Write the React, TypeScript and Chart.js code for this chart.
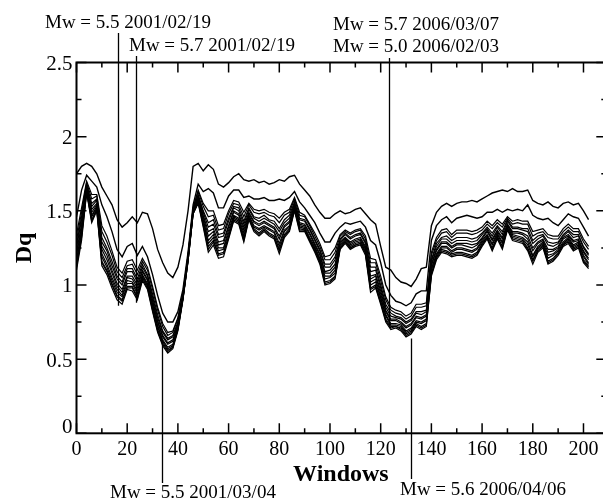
import React, { useEffect, useRef } from "react";
import { Chart, registerables } from "chart.js";

Chart.register(...registerables);

// ---------- data ----------
const windows = [
  0, 2, 4, 6, 8, 10, 12, 14, 16, 18,
  20, 22, 24, 26, 28, 30, 32, 34, 36, 38,
  40, 42, 44, 46, 48, 50, 52, 54, 56, 58,
  60, 62, 64, 66, 68, 70, 72, 74, 76, 78,
  80, 82, 84, 86, 88, 90, 92, 94, 96, 98,
  100, 102, 104, 106, 108, 110, 112, 114, 116, 118,
  120, 122, 124, 126, 128, 130, 132, 134, 136, 138,
  140, 142, 144, 146, 148, 150, 152, 154, 156, 158,
  160, 162, 164, 166, 168, 170, 172, 174, 176, 178,
  180, 182, 184, 186, 188, 190, 192, 194, 196, 198,
  200, 202,
];

const dqQ01 = [
  1.75, 1.8, 1.82, 1.8, 1.75, 1.66, 1.6, 1.54, 1.44, 1.39,
  1.42, 1.46, 1.42, 1.49, 1.48, 1.38, 1.24, 1.15, 1.08, 1.05,
  1.12, 1.27, 1.5, 1.8, 1.82, 1.77, 1.81, 1.78, 1.68, 1.66,
  1.69, 1.73, 1.75, 1.71, 1.7, 1.71, 1.69, 1.7, 1.68, 1.69,
  1.71, 1.7, 1.73, 1.74, 1.68, 1.64, 1.6, 1.54, 1.49, 1.45,
  1.45, 1.48, 1.5, 1.48, 1.49, 1.51, 1.52, 1.48, 1.44, 1.41,
  1.26, 1.12, 1.1, 1.05, 1.02, 1.01, 0.99, 1.04, 1.11, 1.12,
  1.4, 1.49, 1.53, 1.55, 1.53, 1.55, 1.56, 1.56, 1.57, 1.56,
  1.58, 1.6, 1.62, 1.63, 1.64, 1.63, 1.65, 1.63, 1.63, 1.64,
  1.57, 1.55, 1.54, 1.56, 1.53, 1.52, 1.55, 1.56, 1.54, 1.55,
  1.5, 1.44,
];

const dqQ02 = [
  1.46, 1.64, 1.74, 1.7, 1.66, 1.54, 1.46, 1.36, 1.24, 1.19,
  1.26, 1.28, 1.2, 1.26, 1.19, 1.07, 0.93, 0.81, 0.75, 0.75,
  0.82, 0.97, 1.22, 1.54, 1.68, 1.63, 1.65, 1.62, 1.52, 1.52,
  1.6, 1.64, 1.64, 1.59, 1.6, 1.58, 1.58, 1.59, 1.57, 1.57,
  1.58, 1.57, 1.59, 1.63, 1.56, 1.52, 1.47, 1.42, 1.35, 1.29,
  1.29, 1.35, 1.39, 1.42, 1.41, 1.42, 1.43, 1.39, 1.3, 1.27,
  1.15, 1.0, 0.93, 0.89, 0.88, 0.86, 0.88, 0.94, 0.96, 0.96,
  1.3, 1.4, 1.44, 1.46, 1.42, 1.45, 1.46, 1.47, 1.46, 1.45,
  1.46, 1.49, 1.49, 1.51, 1.49, 1.51, 1.5, 1.51, 1.5, 1.54,
  1.47, 1.45, 1.44, 1.45, 1.42, 1.4, 1.44, 1.48, 1.46, 1.45,
  1.39, 1.33,
];

const dqQ03 = [
  1.34, 1.52, 1.7, 1.61, 1.61, 1.4, 1.33, 1.23, 1.12, 1.08,
  1.16, 1.17, 1.1, 1.18, 1.12, 0.99, 0.85, 0.74, 0.68, 0.69,
  0.78, 0.95, 1.2, 1.52, 1.64, 1.55, 1.5, 1.5, 1.4, 1.41,
  1.5, 1.57, 1.56, 1.49, 1.55, 1.51, 1.5, 1.51, 1.49, 1.48,
  1.45, 1.49, 1.51, 1.59, 1.49, 1.47, 1.41, 1.35, 1.28, 1.19,
  1.2, 1.25, 1.34, 1.37, 1.35, 1.37, 1.38, 1.33, 1.18, 1.17,
  1.06, 0.92, 0.85, 0.83, 0.82, 0.79, 0.81, 0.87, 0.87, 0.88,
  1.22, 1.32, 1.37, 1.38, 1.34, 1.37, 1.37, 1.37, 1.36, 1.37,
  1.39, 1.43, 1.4, 1.44, 1.41, 1.46, 1.43, 1.44, 1.43, 1.43,
  1.36, 1.37, 1.38, 1.34, 1.33, 1.33, 1.38, 1.41, 1.38, 1.38,
  1.31, 1.26,
];

const dqQ04 = [
  1.3, 1.49, 1.69, 1.58, 1.6, 1.36, 1.29, 1.2, 1.09, 1.05,
  1.13, 1.14, 1.07, 1.16, 1.1, 0.97, 0.83, 0.72, 0.66, 0.68,
  0.77, 0.94, 1.2, 1.52, 1.63, 1.53, 1.46, 1.47, 1.37, 1.38,
  1.48, 1.55, 1.54, 1.46, 1.54, 1.49, 1.48, 1.49, 1.47, 1.46,
  1.42, 1.47, 1.49, 1.58, 1.47, 1.46, 1.4, 1.33, 1.26, 1.17,
  1.17, 1.22, 1.33, 1.36, 1.34, 1.36, 1.37, 1.31, 1.15, 1.15,
  1.03, 0.9, 0.83, 0.81, 0.8, 0.77, 0.79, 0.85, 0.85, 0.86,
  1.2, 1.3, 1.35, 1.36, 1.32, 1.35, 1.35, 1.35, 1.34, 1.35,
  1.37, 1.41, 1.38, 1.42, 1.39, 1.45, 1.41, 1.42, 1.41, 1.41,
  1.33, 1.35, 1.36, 1.32, 1.31, 1.31, 1.36, 1.39, 1.36, 1.36,
  1.29, 1.24,
];

const dqQ05 = [
  1.27, 1.46, 1.68, 1.55, 1.58, 1.32, 1.25, 1.16, 1.06, 1.02,
  1.11, 1.11, 1.04, 1.14, 1.07, 0.94, 0.8, 0.69, 0.64, 0.66,
  0.75, 0.93, 1.19, 1.51, 1.61, 1.5, 1.42, 1.44, 1.34, 1.35,
  1.45, 1.53, 1.52, 1.43, 1.52, 1.46, 1.45, 1.47, 1.44, 1.43,
  1.38, 1.44, 1.47, 1.56, 1.45, 1.44, 1.38, 1.31, 1.24, 1.14,
  1.14, 1.19, 1.31, 1.35, 1.32, 1.34, 1.35, 1.29, 1.12, 1.12,
  1.0, 0.87, 0.81, 0.79, 0.78, 0.75, 0.77, 0.82, 0.82, 0.83,
  1.17, 1.28, 1.32, 1.33, 1.3, 1.32, 1.32, 1.32, 1.31, 1.32,
  1.35, 1.39, 1.35, 1.4, 1.36, 1.44, 1.39, 1.39, 1.38, 1.38,
  1.3, 1.33, 1.34, 1.29, 1.28, 1.29, 1.34, 1.37, 1.34, 1.34,
  1.26, 1.21,
];

const dqQ06 = [
  1.25, 1.44, 1.67, 1.53, 1.57, 1.29, 1.23, 1.13, 1.04, 1.0,
  1.09, 1.09, 1.02, 1.12, 1.06, 0.92, 0.78, 0.68, 0.63, 0.65,
  0.74, 0.93, 1.19, 1.51, 1.6, 1.49, 1.39, 1.41, 1.32, 1.33,
  1.43, 1.52, 1.5, 1.41, 1.51, 1.45, 1.43, 1.45, 1.43, 1.41,
  1.36, 1.42, 1.45, 1.55, 1.44, 1.43, 1.37, 1.3, 1.23, 1.12,
  1.12, 1.17, 1.3, 1.34, 1.31, 1.33, 1.34, 1.28, 1.09, 1.1,
  0.98, 0.85, 0.79, 0.78, 0.77, 0.74, 0.76, 0.81, 0.8, 0.82,
  1.16, 1.26, 1.31, 1.31, 1.28, 1.3, 1.3, 1.3, 1.29, 1.3,
  1.34, 1.38, 1.33, 1.39, 1.34, 1.43, 1.38, 1.38, 1.37, 1.36,
  1.28, 1.31, 1.33, 1.27, 1.26, 1.28, 1.33, 1.36, 1.32, 1.33,
  1.25, 1.2,
];

const dqQ07 = [
  1.22, 1.41, 1.66, 1.51, 1.55, 1.26, 1.2, 1.1, 1.01, 0.97,
  1.06, 1.06, 1.0, 1.1, 1.04, 0.9, 0.76, 0.66, 0.61, 0.63,
  0.73, 0.92, 1.18, 1.5, 1.59, 1.47, 1.36, 1.38, 1.29, 1.3,
  1.4, 1.5, 1.48, 1.39, 1.49, 1.43, 1.41, 1.43, 1.41, 1.39,
  1.33, 1.4, 1.43, 1.54, 1.42, 1.41, 1.35, 1.28, 1.21, 1.09,
  1.1, 1.14, 1.29, 1.32, 1.29, 1.31, 1.32, 1.26, 1.06, 1.07,
  0.96, 0.83, 0.77, 0.77, 0.75, 0.72, 0.74, 0.79, 0.78, 0.8,
  1.14, 1.24, 1.29, 1.29, 1.26, 1.28, 1.28, 1.28, 1.27, 1.28,
  1.32, 1.37, 1.31, 1.37, 1.32, 1.41, 1.36, 1.36, 1.35, 1.33,
  1.25, 1.29, 1.31, 1.24, 1.24, 1.26, 1.32, 1.34, 1.3, 1.31,
  1.23, 1.18,
];

const dqQ08 = [
  1.2, 1.39, 1.65, 1.49, 1.54, 1.24, 1.17, 1.08, 0.99, 0.95,
  1.05, 1.04, 0.98, 1.09, 1.03, 0.89, 0.75, 0.65, 0.6, 0.62,
  0.73, 0.92, 1.18, 1.5, 1.58, 1.46, 1.33, 1.36, 1.27, 1.28,
  1.39, 1.49, 1.47, 1.37, 1.48, 1.42, 1.4, 1.42, 1.4, 1.38,
  1.31, 1.39, 1.42, 1.53, 1.41, 1.4, 1.34, 1.27, 1.2, 1.08,
  1.08, 1.12, 1.28, 1.32, 1.28, 1.3, 1.31, 1.25, 1.04, 1.06,
  0.94, 0.82, 0.76, 0.76, 0.74, 0.71, 0.73, 0.78, 0.77, 0.79,
  1.13, 1.23, 1.28, 1.28, 1.25, 1.27, 1.27, 1.26, 1.25, 1.27,
  1.31, 1.36, 1.3, 1.36, 1.31, 1.41, 1.35, 1.35, 1.34, 1.31,
  1.23, 1.28, 1.3, 1.22, 1.23, 1.25, 1.31, 1.33, 1.29, 1.3,
  1.22, 1.17,
];

const dqQ09 = [
  1.17, 1.37, 1.64, 1.47, 1.53, 1.21, 1.14, 1.05, 0.97, 0.93,
  1.03, 1.02, 0.96, 1.07, 1.01, 0.87, 0.73, 0.63, 0.58, 0.6,
  0.72, 0.91, 1.17, 1.49, 1.57, 1.44, 1.3, 1.34, 1.25, 1.25,
  1.37, 1.47, 1.45, 1.35, 1.47, 1.4, 1.38, 1.4, 1.38, 1.36,
  1.28, 1.37, 1.4, 1.52, 1.4, 1.39, 1.32, 1.26, 1.18, 1.06,
  1.06, 1.1, 1.27, 1.31, 1.27, 1.29, 1.3, 1.24, 1.02, 1.04,
  0.92, 0.8, 0.74, 0.74, 0.73, 0.69, 0.71, 0.76, 0.75, 0.77,
  1.11, 1.21, 1.26, 1.26, 1.23, 1.25, 1.25, 1.24, 1.23, 1.25,
  1.3, 1.34, 1.28, 1.35, 1.29, 1.4, 1.34, 1.33, 1.32, 1.29,
  1.2, 1.26, 1.29, 1.2, 1.21, 1.24, 1.29, 1.32, 1.27, 1.29,
  1.2, 1.15,
];

const dqQ10 = [
  1.15, 1.35, 1.64, 1.46, 1.52, 1.19, 1.12, 1.03, 0.95, 0.92,
  1.01, 1.01, 0.94, 1.06, 1.0, 0.86, 0.72, 0.62, 0.57, 0.59,
  0.71, 0.91, 1.17, 1.49, 1.57, 1.43, 1.28, 1.32, 1.23, 1.24,
  1.35, 1.46, 1.44, 1.33, 1.46, 1.39, 1.37, 1.39, 1.37, 1.35,
  1.26, 1.36, 1.39, 1.52, 1.39, 1.38, 1.31, 1.25, 1.17, 1.04,
  1.05, 1.08, 1.26, 1.3, 1.26, 1.28, 1.29, 1.23, 1.0, 1.02,
  0.91, 0.79, 0.73, 0.73, 0.72, 0.68, 0.7, 0.75, 0.74, 0.76,
  1.1, 1.2, 1.25, 1.25, 1.22, 1.24, 1.24, 1.23, 1.22, 1.24,
  1.29, 1.33, 1.27, 1.34, 1.28, 1.39, 1.33, 1.32, 1.31, 1.27,
  1.19, 1.25, 1.28, 1.18, 1.2, 1.23, 1.28, 1.31, 1.26, 1.28,
  1.19, 1.14,
];

const dqQ11 = [
  1.13, 1.33, 1.63, 1.44, 1.51, 1.16, 1.1, 1.01, 0.93, 0.9,
  0.99, 0.99, 0.92, 1.05, 0.99, 0.84, 0.7, 0.61, 0.56, 0.58,
  0.7, 0.91, 1.16, 1.48, 1.56, 1.41, 1.26, 1.3, 1.21, 1.22,
  1.33, 1.45, 1.43, 1.31, 1.45, 1.38, 1.35, 1.38, 1.35, 1.33,
  1.24, 1.34, 1.38, 1.51, 1.38, 1.37, 1.3, 1.24, 1.16, 1.02,
  1.03, 1.06, 1.25, 1.29, 1.25, 1.27, 1.28, 1.22, 0.98, 1.0,
  0.89, 0.77, 0.72, 0.72, 0.71, 0.67, 0.69, 0.74, 0.72, 0.74,
  1.08, 1.19, 1.24, 1.23, 1.21, 1.22, 1.22, 1.21, 1.2, 1.22,
  1.28, 1.32, 1.25, 1.33, 1.26, 1.38, 1.32, 1.31, 1.3, 1.25,
  1.17, 1.24, 1.27, 1.16, 1.18, 1.22, 1.27, 1.3, 1.25, 1.27,
  1.17, 1.13,
];

const dqQ12 = [
  1.12, 1.32, 1.63, 1.43, 1.51, 1.15, 1.09, 1.0, 0.92, 0.89,
  0.98, 0.98, 0.91, 1.04, 0.98, 0.83, 0.69, 0.6, 0.55, 0.58,
  0.7, 0.91, 1.16, 1.48, 1.56, 1.4, 1.24, 1.29, 1.2, 1.21,
  1.32, 1.44, 1.42, 1.3, 1.45, 1.37, 1.34, 1.37, 1.34, 1.32,
  1.23, 1.33, 1.37, 1.51, 1.37, 1.37, 1.3, 1.23, 1.15, 1.01,
  1.02, 1.05, 1.25, 1.29, 1.25, 1.27, 1.28, 1.21, 0.97, 0.99,
  0.88, 0.76, 0.71, 0.72, 0.7, 0.66, 0.68, 0.73, 0.71, 0.73,
  1.07, 1.18, 1.23, 1.22, 1.2, 1.21, 1.21, 1.2, 1.19, 1.21,
  1.27, 1.32, 1.24, 1.32, 1.25, 1.38, 1.31, 1.3, 1.29, 1.24,
  1.16, 1.23, 1.26, 1.15, 1.17, 1.21, 1.27, 1.29, 1.24, 1.26,
  1.16, 1.12,
];

const dqQ13 = [
  1.1, 1.3, 1.62, 1.42, 1.5, 1.13, 1.07, 0.98, 0.9, 0.87,
  0.97, 0.96, 0.9, 1.03, 0.97, 0.82, 0.68, 0.59, 0.54, 0.57,
  0.69, 0.9, 1.16, 1.48, 1.55, 1.39, 1.22, 1.27, 1.18, 1.19,
  1.31, 1.43, 1.41, 1.29, 1.44, 1.36, 1.33, 1.36, 1.33, 1.31,
  1.21, 1.32, 1.36, 1.5, 1.36, 1.36, 1.29, 1.22, 1.14, 1.0,
  1.01, 1.04, 1.24, 1.28, 1.24, 1.26, 1.27, 1.2, 0.95, 0.98,
  0.87, 0.75, 0.7, 0.71, 0.69, 0.65, 0.67, 0.72, 0.7, 0.72,
  1.06, 1.17, 1.22, 1.21, 1.19, 1.2, 1.2, 1.19, 1.18, 1.2,
  1.26, 1.31, 1.23, 1.31, 1.24, 1.37, 1.3, 1.29, 1.28, 1.23,
  1.14, 1.22, 1.25, 1.14, 1.16, 1.2, 1.26, 1.28, 1.23, 1.25,
  1.15, 1.11,
];

const allCurves = [dqQ01, dqQ02, dqQ03, dqQ04, dqQ05, dqQ06, dqQ07, dqQ08, dqQ09, dqQ10, dqQ11, dqQ12, dqQ13];

const xMajorTicks = [0, 20, 40, 60, 80, 100, 120, 140, 160, 180, 200];
const xTickLabels = ["0", "20", "40", "60", "80", "100", "120", "140", "160", "180", "200"];
const xMinorTicks = [10, 30, 50, 70, 90, 110, 130, 150, 170, 190];
const yMajorTicks = [0, 0.5, 1, 1.5, 2, 2.5];
const yTickLabels = ["0", "0.5", "1", "1.5", "2", "2.5"];
const yMinorTicks = [0.25, 0.75, 1.25, 1.75, 2.25];

const xTitle = "Windows";
const yTitle = "Dq";

// earthquake markers: window position and Dq value where the marker touches the curves
const eventWindows = [16.5, 23.5, 123.3, 33.7, 131.9];
const eventDq = [0.86, 0.88, 0.72, 0.6, 0.64];
const eventTexts = [
  "Mw = 5.5 2001/02/19",
  "Mw = 5.7 2001/02/19",
  "Mw = 5.7 2006/03/07",
  "Mw = 5.0 2006/02/03",
  "Mw = 5.5 2001/03/04",
  "Mw = 5.6 2006/04/06",
];

// ---------- layout / style ----------
const FONT = '"Liberation Serif", "Times New Roman", Times, serif';
const CANVAS_W = 610;
const CANVAS_H = 501;
const PLOT_RIGHT = 606.3;
// pixel end of each marker line outside the plot (top markers go up, bottom go down)
const eventLineEnds = [33, 56, 58, 483, 479];
const eventTextPos = [
  [45, 27.5],
  [129, 50.5],
  [333, 30],
  [333, 51.5],
  [110, 498],
  [400, 494.5],
];

const decorPlugin = {
  id: "decor",
  afterDatasetsDraw(chart: any) {
    const ctx = chart.ctx as CanvasRenderingContext2D;
    const { left, right, top, bottom } = chart.chartArea;
    const xs = chart.scales.x;
    const ys = chart.scales.y;
    ctx.save();
    ctx.strokeStyle = "#000";
    ctx.fillStyle = "#000";

    // marker lines
    ctx.lineWidth = 1.3;
    ctx.beginPath();
    eventWindows.forEach((w, i) => {
      const px = Math.round(xs.getPixelForValue(w)) + 0.5;
      const py = ys.getPixelForValue(eventDq[i]);
      ctx.moveTo(px, eventLineEnds[i]);
      ctx.lineTo(px, py);
    });
    ctx.stroke();

    // frame
    ctx.lineWidth = 2;
    ctx.strokeRect(left, top, right - left, bottom - top);

    // ticks (inward, on all four sides)
    ctx.lineWidth = 1.5;
    ctx.beginPath();
    const xTick = (v: number, len: number) => {
      const px = xs.getPixelForValue(v);
      ctx.moveTo(px, bottom);
      ctx.lineTo(px, bottom - len);
      ctx.moveTo(px, top);
      ctx.lineTo(px, top + len);
    };
    const yTick = (v: number, len: number) => {
      const py = ys.getPixelForValue(v);
      ctx.moveTo(left, py);
      ctx.lineTo(left + len, py);
      ctx.moveTo(right, py);
      ctx.lineTo(right - len, py);
    };
    xMajorTicks.forEach((v) => xTick(v, 10));
    xMinorTicks.forEach((v) => xTick(v, 5));
    yMajorTicks.forEach((v) => yTick(v, 10));
    yMinorTicks.forEach((v) => yTick(v, 5));
    ctx.stroke();

    // tick labels
    ctx.font = `20px ${FONT}`;
    ctx.textAlign = "center";
    ctx.textBaseline = "alphabetic";
    xMajorTicks.forEach((v, i) => {
      ctx.fillText(xTickLabels[i], xs.getPixelForValue(v), bottom + 22);
    });
    ctx.font = `21px ${FONT}`;
    ctx.textAlign = "right";
    yMajorTicks.forEach((v, i) => {
      const py = ys.getPixelForValue(v);
      ctx.fillText(yTickLabels[i], left - 4, Math.min(py + 7.5, bottom));
    });

    // axis titles
    ctx.font = `bold 24px ${FONT}`;
    ctx.textAlign = "center";
    ctx.fillText(xTitle, (left + PLOT_RIGHT) / 2 - 0.5, bottom + 48);
    ctx.save();
    ctx.translate(31, (top + bottom) / 2);
    ctx.rotate(-Math.PI / 2);
    ctx.fillText(yTitle, 0, 0);
    ctx.restore();

    // marker texts
    ctx.font = `19px ${FONT}`;
    ctx.textAlign = "left";
    eventTexts.forEach((t, i) => {
      ctx.fillText(t, eventTextPos[i][0], eventTextPos[i][1]);
    });

    ctx.restore();
  },
};

export default function App() {
  const canvasRef = useRef<HTMLCanvasElement | null>(null);

  useEffect(() => {
    document.body.style.margin = "0";
    document.body.style.overflow = "hidden";
    const canvas = canvasRef.current;
    if (!canvas) return;
    const chart = new Chart(canvas, {
      type: "line",
      data: {
        datasets: allCurves.map((curve, k) => ({
          label: `q ${k + 1}`,
          data: windows.map((w, i) => ({ x: w, y: curve[i] })),
          borderColor: "#000",
          borderWidth: k < 2 ? 1.4 : 1.2,
          pointRadius: 0,
          fill: false,
          tension: 0,
        })),
      },
      options: {
        responsive: false,
        animation: false,
        events: [],
        layout: { padding: { left: 76.5, top: 62.5, right: CANVAS_W - PLOT_RIGHT, bottom: CANVAS_H - 433.3 } },
        scales: {
          x: { type: "linear", min: 0, max: 209, display: false },
          y: { type: "linear", min: 0, max: 2.5, display: false },
        },
        plugins: {
          legend: { display: false },
          tooltip: { enabled: false },
        },
      },
      plugins: [decorPlugin],
    });
    return () => chart.destroy();
  }, []);

  return (
    <div style={{ position: "fixed", left: 0, top: 0, width: CANVAS_W, height: CANVAS_H, background: "#fff" }}>
      <canvas ref={canvasRef} width={CANVAS_W} height={CANVAS_H} style={{ display: "block" }} />
    </div>
  );
}
